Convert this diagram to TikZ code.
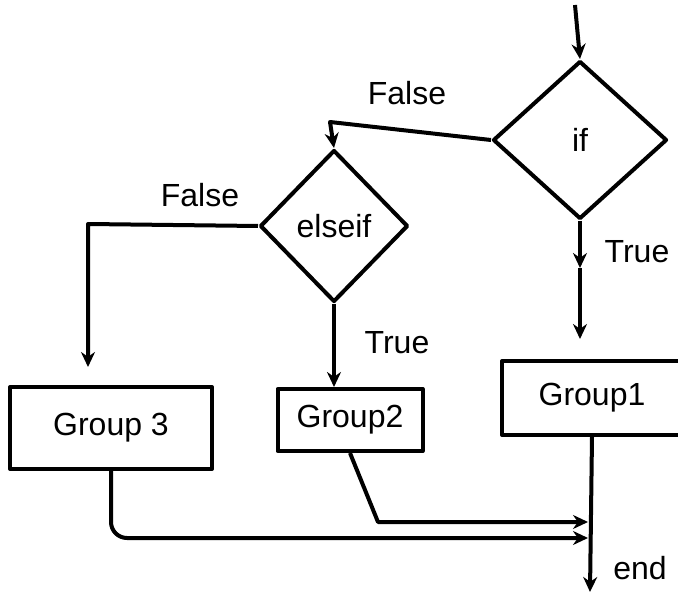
\documentclass[tikz,border=0pt]{standalone}
\usepackage{fontspec}
\setmainfont{Liberation Sans}
\usetikzlibrary{shapes.geometric,arrows.meta}
\begin{document}
\begin{tikzpicture}[x=1pt,y=-1pt,
  line width=4pt, line join=round,
  every node/.style={font=\fontsize{32}{36}\selectfont},
  decision/.style={draw, diamond, inner sep=0pt, line width=4pt},
  groupbox/.style={draw, rectangle, inner sep=0pt, line width=4pt},
  lbl/.style={inner sep=0pt},
  flow/.style={-{Stealth[length=15pt,width=14pt]}},
]
\useasboundingbox (0,0) rectangle (678,596);
\clip (0,0) rectangle (678,596);

\node[decision, minimum width=174pt, minimum height=158pt] (if) at (580,140) {if};
\node[decision, minimum width=148pt, minimum height=152pt] (elseif) at (334,226) {elseif};
\node[groupbox, minimum width=202pt, minimum height=82pt] (g3) at (111,428) {Group 3};
\node[groupbox, minimum width=145pt, minimum height=62pt] (g2) at (350,420) {Group2};
\node[groupbox, minimum width=180pt, minimum height=74pt] (g1) at (592,398) {Group1};

\coordinate (start) at (575,5);
\coordinate (fa) at (330,122);
\coordinate (fb) at (88,224);
\coordinate (m1) at (580,268);
\coordinate (c2) at (378,522);
\coordinate (j2) at (588,522);
\coordinate (j3) at (588,538);
\coordinate (endc) at (590,592);

\draw[flow] (start) -- (if.north);
\draw[flow] (if.west) -- (fa) -- (elseif.north);
\draw[flow, shorten >=18pt] (elseif.west) -- (fb) -- (fb |- g3.north);
\draw[flow] (elseif.south) -- (elseif.south |- g2.north);
\draw[flow] (if.south) -- (m1);
\draw[flow, shorten >=20pt] (m1) -- (m1 |- g1.north);
\draw[flow] (g1.south) -- (endc);
\draw[flow] (g2.south) -- (c2) -- (j2);
\draw[flow, rounded corners=16pt] (g3.south) |- (j3);

\node[lbl] (lf1) at (407,93) {False};
\node[lbl] (lf2) at (200,195) {False};
\node[lbl] (lt2) at (397,343) {True};
\node[lbl] (lt1) at (637,252) {True};
\node[lbl] (lend) at (640,568) {end};
\end{tikzpicture}
\end{document}
